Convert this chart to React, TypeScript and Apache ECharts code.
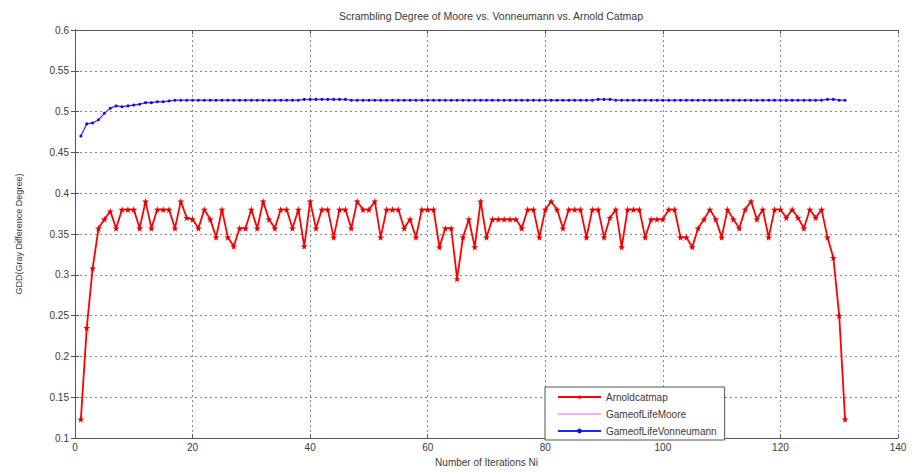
import React, { useEffect, useRef } from "react";
import * as echarts from "echarts";

const titleText = "Scrambling Degree of Moore vs. Vonneumann vs. Arnold Catmap";
const xAxisName = "Number of Iterations Ni";
const yAxisName = "GDD(Gray Difference Degree)";
const seriesNames = ["Arnoldcatmap", "GameofLifeMoore", "GameofLifeVonneumann"];

const arnoldValues = [
  0.123, 0.235, 0.308, 0.357, 0.368, 0.378, 0.357, 0.38, 0.38, 0.38,
  0.357, 0.39, 0.357, 0.38, 0.38, 0.38, 0.357, 0.39, 0.37, 0.368,
  0.357, 0.38, 0.368, 0.346, 0.38, 0.346, 0.335, 0.357, 0.357, 0.38,
  0.357, 0.39, 0.368, 0.357, 0.38, 0.38, 0.357, 0.38, 0.335, 0.39,
  0.357, 0.38, 0.38, 0.346, 0.38, 0.38, 0.357, 0.39, 0.38, 0.38,
  0.39, 0.346, 0.38, 0.38, 0.38, 0.357, 0.368, 0.346, 0.38, 0.38,
  0.38, 0.334, 0.357, 0.357, 0.295, 0.346, 0.368, 0.334, 0.39, 0.346,
  0.368, 0.368, 0.368, 0.368, 0.368, 0.357, 0.38, 0.38, 0.346, 0.38,
  0.39, 0.38, 0.357, 0.38, 0.38, 0.38, 0.346, 0.38, 0.38, 0.346,
  0.37, 0.38, 0.334, 0.38, 0.38, 0.38, 0.346, 0.368, 0.368, 0.368,
  0.38, 0.38, 0.346, 0.346, 0.334, 0.357, 0.368, 0.38, 0.368, 0.346,
  0.38, 0.368, 0.357, 0.38, 0.39, 0.368, 0.38, 0.346, 0.38, 0.38,
  0.37, 0.38, 0.37, 0.357, 0.38, 0.37, 0.38, 0.346, 0.321, 0.25,
  0.123,
];

const vonneumannValues = [
  0.47, 0.485, 0.486, 0.49, 0.498, 0.504, 0.507, 0.506, 0.507, 0.508,
  0.509, 0.511, 0.511, 0.512, 0.512, 0.513, 0.514, 0.514, 0.514, 0.514,
  0.514, 0.514, 0.514, 0.514, 0.514, 0.514, 0.514, 0.514, 0.514, 0.514,
  0.514, 0.514, 0.514, 0.514, 0.514, 0.514, 0.514, 0.514, 0.515, 0.515,
  0.515, 0.515, 0.515, 0.515, 0.515, 0.515, 0.514, 0.514, 0.514, 0.514,
  0.514, 0.514, 0.514, 0.514, 0.514, 0.514, 0.514, 0.514, 0.514, 0.514,
  0.514, 0.514, 0.514, 0.514, 0.514, 0.514, 0.514, 0.514, 0.514, 0.514,
  0.514, 0.514, 0.514, 0.514, 0.514, 0.514, 0.514, 0.514, 0.514, 0.514,
  0.514, 0.514, 0.514, 0.514, 0.514, 0.514, 0.514, 0.514, 0.515, 0.515,
  0.515, 0.514, 0.514, 0.514, 0.514, 0.514, 0.514, 0.514, 0.514, 0.514,
  0.514, 0.514, 0.514, 0.514, 0.514, 0.514, 0.514, 0.514, 0.514, 0.514,
  0.514, 0.514, 0.514, 0.514, 0.514, 0.514, 0.514, 0.514, 0.514, 0.514,
  0.514, 0.514, 0.514, 0.514, 0.514, 0.514, 0.514, 0.515, 0.515, 0.514,
  0.514,
];

const mooreValues = [
  0.47, 0.485, 0.486, 0.49, 0.498, 0.504, 0.507, 0.506, 0.507, 0.508,
  0.509, 0.511, 0.511, 0.512, 0.512, 0.513, 0.514, 0.514, 0.514, 0.514,
  0.514, 0.514, 0.514, 0.514, 0.514, 0.514, 0.514, 0.514, 0.514, 0.514,
  0.514, 0.514, 0.514, 0.514, 0.514, 0.514, 0.514, 0.514, 0.515, 0.515,
  0.515, 0.515, 0.515, 0.515, 0.515, 0.515, 0.514, 0.514, 0.514, 0.514,
  0.514, 0.514, 0.514, 0.514, 0.514, 0.514, 0.514, 0.514, 0.514, 0.514,
  0.514, 0.514, 0.514, 0.514, 0.514, 0.514, 0.514, 0.514, 0.514, 0.514,
  0.514, 0.514, 0.514, 0.514, 0.514, 0.514, 0.514, 0.514, 0.514, 0.514,
  0.514, 0.514, 0.514, 0.514, 0.514, 0.514, 0.514, 0.514, 0.515, 0.515,
  0.515, 0.514, 0.514, 0.514, 0.514, 0.514, 0.514, 0.514, 0.514, 0.514,
  0.514, 0.514, 0.514, 0.514, 0.514, 0.514, 0.514, 0.514, 0.514, 0.514,
  0.514, 0.514, 0.514, 0.514, 0.514, 0.514, 0.514, 0.514, 0.514, 0.514,
  0.514, 0.514, 0.514, 0.514, 0.514, 0.514, 0.514, 0.515, 0.515, 0.514,
  0.514,
];

const toPairs = (vals: number[]) => vals.map((v, i) => [i + 1, v]);

const STAR =
  "path://M50,0 L61,35 L98,35 L68,57 L79,91 L50,70 L21,91 L32,57 L2,35 L39,35 Z";

const FONT = "'Liberation Sans', Arial, sans-serif";
const TXT = "#3a3a3a";

export default function App() {
  const ref = useRef<HTMLDivElement>(null);
  useEffect(() => {
    document.body.style.margin = "0";
    const chart = echarts.init(ref.current!, null, { renderer: "svg" });
    const grid = { left: 75, right: 16, top: 30, bottom: 33 };
    const splitLine = {
      show: true,
      lineStyle: { color: "#8a8a8a", type: [2, 3] as any, width: 1 },
    };
    const axisLine = { show: true, lineStyle: { color: "#555", width: 1 } };
    const axisTick = { show: true, inside: true, length: 4, lineStyle: { color: "#555" } };
    chart.setOption({
      animation: false,
      backgroundColor: "#ffffff",
      textStyle: { fontFamily: FONT },
      title: {
        text: titleText,
        left: 486,
        textAlign: "center",
        top: 5,
        textStyle: { fontSize: 10.5, fontWeight: "normal", color: TXT, fontFamily: FONT },
      },
      grid,
      legend: {
        data: [
          { name: seriesNames[0] },
          { name: seriesNames[1], itemStyle: { opacity: 0 } },
          { name: seriesNames[2] },
        ],
        orient: "vertical",
        left: 545,
        top: 387,
        width: 231,
        padding: [5, 8, 4, 12],
        itemGap: 7,
        itemWidth: 43,
        itemHeight: 6,
        backgroundColor: "#ffffff",
        borderColor: "#555",
        borderWidth: 1,
        borderRadius: 0,
        textStyle: { fontSize: 10, color: TXT, fontFamily: FONT },
      },
      xAxis: [
        {
          type: "value",
          min: 0,
          max: 140,
          interval: 20,
          name: xAxisName,
          nameLocation: "middle",
          nameGap: 17,
          nameTextStyle: { fontSize: 10, color: TXT, fontFamily: FONT },
          axisLine,
          axisTick,
          axisLabel: { fontSize: 10, color: TXT, margin: 4, fontFamily: FONT },
          splitLine,
        },
        {
          type: "value",
          position: "top",
          min: 0,
          max: 140,
          interval: 20,
          axisLine,
          axisTick,
          axisLabel: { show: false },
          splitLine: { show: false },
        },
      ],
      yAxis: [
        {
          type: "value",
          min: 0.1,
          max: 0.6,
          interval: 0.05,
          name: yAxisName,
          nameLocation: "middle",
          nameGap: 52,
          nameTextStyle: { fontSize: 9, color: TXT, fontFamily: FONT },
          axisLine,
          axisTick,
          axisLabel: {
            fontSize: 10,
            color: TXT,
            margin: 6,
            fontFamily: FONT,
            formatter: (v: number) => String(+v.toFixed(2)),
          },
          splitLine,
        },
        {
          type: "value",
          position: "right",
          min: 0.1,
          max: 0.6,
          interval: 0.05,
          axisLine,
          axisTick,
          axisLabel: { show: false },
          splitLine: { show: false },
        },
      ],
      series: [
        {
          name: seriesNames[1],
          type: "line",
          data: toPairs(mooreValues),
          symbol: "none",
          lineStyle: { color: "#ffa8ff", width: 2 },
          itemStyle: { color: "#ffa8ff" },
          z: 2,
        },
        {
          name: seriesNames[2],
          type: "line",
          data: toPairs(vonneumannValues),
          symbol: "circle",
          symbolSize: 3,
          lineStyle: { color: "#2222ff", width: 1 },
          itemStyle: { color: "#1111cc" },
          z: 3,
        },
        {
          name: seriesNames[0],
          type: "line",
          data: toPairs(arnoldValues),
          symbol: STAR,
          symbolSize: 7,
          lineStyle: { color: "#ff0000", width: 1.8 },
          itemStyle: { color: "#e00000" },
          z: 4,
        },
      ],
    });
    return () => chart.dispose();
  }, []);
  return <div ref={ref} style={{ width: 914, height: 472 }} />;
}
